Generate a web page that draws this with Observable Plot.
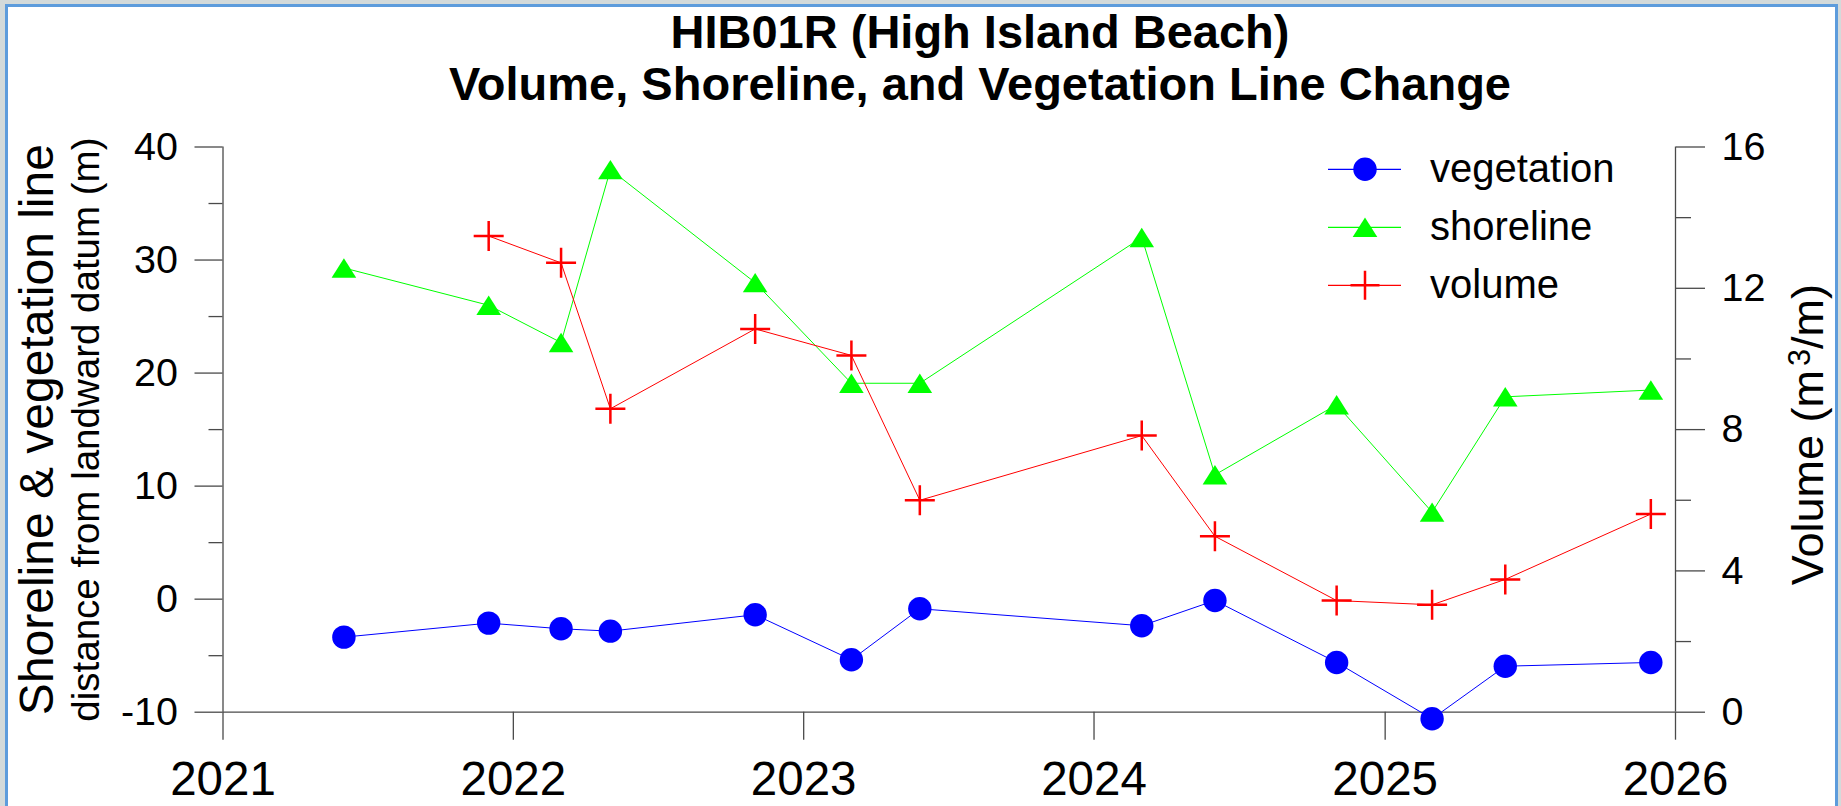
<!DOCTYPE html>
<html>
<head>
<meta charset="utf-8">
<script src="https://cdn.jsdelivr.net/npm/d3@7"></script>
<script src="https://cdn.jsdelivr.net/npm/@observablehq/plot@0.6"></script>
<style>
  html, body { margin: 0; padding: 0; width: 1841px; height: 806px; overflow: hidden; background: #d3dada; }
  #frame { position: absolute; left: 5px; top: 4px; width: 1827px; height: 820px; border: 3px solid #5d9cdc; background: #ffffff; }
  #chart { position: absolute; left: 0; top: 0; }
  #title { position: absolute; left: 380px; top: 6px; width: 1200px; text-align: center; white-space: nowrap;
           font-family: 'Liberation Sans', Arial, sans-serif; font-weight: bold; font-size: 47px; line-height: 52px; color: #000; }
  #legend { position: absolute; left: 0; top: 0; pointer-events: none; }
</style>
</head>
<body>
<div id="frame"></div>
<div id="chart"></div>
<div id="title"></div>
<svg id="legend" width="1841" height="806"></svg>
<script>
// ---- data ----
const dates = ["2021-06-02", "2021-12-01", "2022-03-02", "2022-05-03", "2022-11-01", "2023-03-02", "2023-05-27",
               "2024-03-01", "2024-06-01", "2024-11-01", "2025-03-01", "2025-06-01", "2025-12-01"];
const vegetation = [-3.36, -2.12, -2.62, -2.83, -1.38, -5.36, -0.85, -2.35, -0.12, -5.6, -10.58, -5.93, -5.6];
const shoreline = [29.3, 26.0, 22.7, 38.0, 28.0, 19.1, 19.1, 32.0, 11.0, 17.2, 7.7, 17.9, 18.5];
const volumeDates = ["2021-12-01", "2022-03-02", "2022-05-03", "2022-11-01", "2023-03-02", "2023-05-27",
                     "2024-03-01", "2024-06-01", "2024-11-01", "2025-03-01", "2025-06-01", "2025-12-01"];
const volume = [13.48, 12.72, 8.59, 10.85, 10.10, 6.0, 7.83, 4.98, 3.16, 3.04, 3.76, 5.61];

const leftTicks = [-10, 0, 10, 20, 30, 40];
const leftMinorTicks = [-5, 5, 15, 25, 35];
const rightTicks = [0, 4, 8, 12, 16];
const rightMinorTicks = [2, 6, 10, 14];
const yearTicks = [2021, 2022, 2023, 2024, 2025, 2026];

const seriesNames = ["vegetation", "shoreline", "volume"];
const seriesColors = ["#0000ff", "#00ff00", "#ff0000"];
const titleLines = ["HIB01R (High Island Beach)", "Volume, Shoreline, and Vegetation Line Change"];
const leftTitle = "Shoreline & vegetation line";
const leftSubtitle = "distance from landward datum (m)";
const rightTitleParts = ["Volume (m", "3", "/m)"];

// ---- helpers ----
const leftDomain = [-10, 40];
const rightDomain = [0, 16];
const toLeft = v => leftDomain[0] + (v - rightDomain[0]) * (leftDomain[1] - leftDomain[0]) / (rightDomain[1] - rightDomain[0]);
const fromLeft = y => rightDomain[0] + (y - leftDomain[0]) * (rightDomain[1] - rightDomain[0]) / (leftDomain[1] - leftDomain[0]);
const parse = d3.utcParse("%Y-%m-%d");

const veg = dates.map((d, i) => ({date: parse(d), value: vegetation[i]}));
const shore = dates.map((d, i) => ({date: parse(d), value: shoreline[i]}));
const vol = volumeDates.map((d, i) => ({date: parse(d), value: toLeft(volume[i])}));

const triangleSymbol = {
  draw(context, size) {
    const r = Math.sqrt(size / Math.PI);
    context.moveTo(0, -0.79 * r);
    context.lineTo(r, 0.79 * r);
    context.lineTo(-r, 0.79 * r);
    context.closePath();
  }
};
const plusSymbol = {
  draw(context, size) {
    const r = Math.sqrt(size / Math.PI);
    context.moveTo(-r, 0); context.lineTo(r, 0);
    context.moveTo(0, -r); context.lineTo(0, r);
  }
};

const axisColor = "#4a4a4a";
const font = "'Liberation Sans', Arial, sans-serif";

const chart = Plot.plot({
  width: 1841,
  height: 806,
  marginLeft: 222.5,
  marginRight: 166,
  marginTop: 146.5,
  marginBottom: 94.3,
  style: {background: "transparent", fontFamily: font, color: "black", overflow: "visible"},
  x: {type: "utc", domain: [new Date(Date.UTC(yearTicks[0], 0, 1)), new Date(Date.UTC(yearTicks[yearTicks.length - 1], 0, 1))]},
  y: {domain: leftDomain},
  marks: [
    Plot.ruleY([leftDomain[0]], {stroke: axisColor, strokeWidth: 1.3}),
    Plot.ruleX([new Date(Date.UTC(yearTicks[0], 0, 1)), new Date(Date.UTC(yearTicks[yearTicks.length - 1], 0, 1))], {stroke: axisColor, strokeWidth: 1.3}),
    Plot.axisX(yearTicks.map(y => new Date(Date.UTC(y, 0, 1))), {
      anchor: "bottom", tickSize: 28, tickPadding: 21, tickFormat: d3.utcFormat("%Y"),
      fontSize: 47.5, stroke: axisColor, strokeWidth: 1.3, fill: "black", label: null
    }),
    Plot.axisY(leftTicks, {
      anchor: "left", tickSize: 28, tickPadding: 17, tickFormat: d => String(d),
      fontSize: 39.5, stroke: axisColor, strokeWidth: 1.3, fill: "black", label: null
    }),
    Plot.axisY(leftMinorTicks, {anchor: "left", tickSize: 14, stroke: axisColor, strokeWidth: 1.3, fill: "none", label: null}),
    Plot.axisY(rightTicks.map(toLeft), {
      anchor: "right", tickSize: 29, tickPadding: 17, tickFormat: d => String(Math.round(fromLeft(d))),
      fontSize: 39.5, stroke: axisColor, strokeWidth: 1.3, fill: "black", label: null
    }),
    Plot.axisY(rightMinorTicks.map(toLeft), {anchor: "right", tickSize: 15, stroke: axisColor, strokeWidth: 1.3, fill: "none", label: null}),
    Plot.line(shore, {x: "date", y: "value", stroke: seriesColors[1], strokeWidth: 1}),
    Plot.line(veg, {x: "date", y: "value", stroke: seriesColors[0], strokeWidth: 1}),
    Plot.line(vol, {x: "date", y: "value", stroke: seriesColors[2], strokeWidth: 1}),
    Plot.dot(veg, {x: "date", y: "value", r: 11.7, fill: seriesColors[0], stroke: "none"}),
    Plot.dot(shore, {x: "date", y: "value", symbol: triangleSymbol, r: 12.3, fill: seriesColors[1], stroke: "none"}),
    Plot.dot(vol, {x: "date", y: "value", symbol: plusSymbol, r: 15, fill: "none", stroke: seriesColors[2], strokeWidth: 2.5}),
    Plot.text([leftTitle], {text: d => d, frameAnchor: "left", rotate: -90, dx: -170.5, fontSize: 48,
      lineAnchor: "bottom", textAnchor: "middle", fill: "black"}),
    Plot.text([leftSubtitle], {text: d => d, frameAnchor: "left", rotate: -90, dx: -124.5, fontSize: 38.5,
      lineAnchor: "bottom", textAnchor: "middle", fill: "black"}),
    Plot.text([rightTitleParts.join("")], {text: d => d, frameAnchor: "right", rotate: -90, dx: 147, dy: 5, fontSize: 45,
      lineAnchor: "bottom", textAnchor: "middle", fill: "black", className: "right-title"})
  ]
});
document.getElementById("chart").appendChild(chart);

// superscript in the right axis title
d3.select(chart).selectAll(".right-title text").each(function() {
  const t = d3.select(this);
  t.text(null);
  t.append("tspan").text(rightTitleParts[0]);
  t.append("tspan").attr("dx", 4).attr("dy", "-0.42em").attr("font-size", "0.68em").text(rightTitleParts[1]);
  t.append("tspan").attr("dy", "0.29em").text(rightTitleParts[2]);
});

// ---- title ----
const titleDiv = document.getElementById("title");
titleLines.forEach(t => { const d = document.createElement("div"); d.textContent = t; titleDiv.appendChild(d); });

// ---- legend ----
const legend = d3.select("#legend");
const rowY = [169.3, 227.3, 285.3];
const symbols = [d3.symbolCircle, triangleSymbol, plusSymbol];
const symbolR = [11.7, 12.3, 14.5];
seriesNames.forEach((name, i) => {
  const g = legend.append("g").attr("transform", `translate(0,${rowY[i]})`);
  g.append("line").attr("x1", 1328).attr("x2", 1401).attr("y1", 0).attr("y2", 0)
    .attr("stroke", seriesColors[i]).attr("stroke-width", 1.2);
  const path = d3.symbol(symbols[i], Math.PI * symbolR[i] * symbolR[i])();
  const p = g.append("path").attr("d", path).attr("transform", "translate(1365,0)");
  if (i === 2) p.attr("fill", "none").attr("stroke", seriesColors[i]).attr("stroke-width", 2.5);
  else p.attr("fill", seriesColors[i]);
  g.append("text").attr("x", 1430).attr("y", 13).attr("font-family", font).attr("font-size", 40)
    .attr("fill", "black").text(name);
});
</script>
</body>
</html>
